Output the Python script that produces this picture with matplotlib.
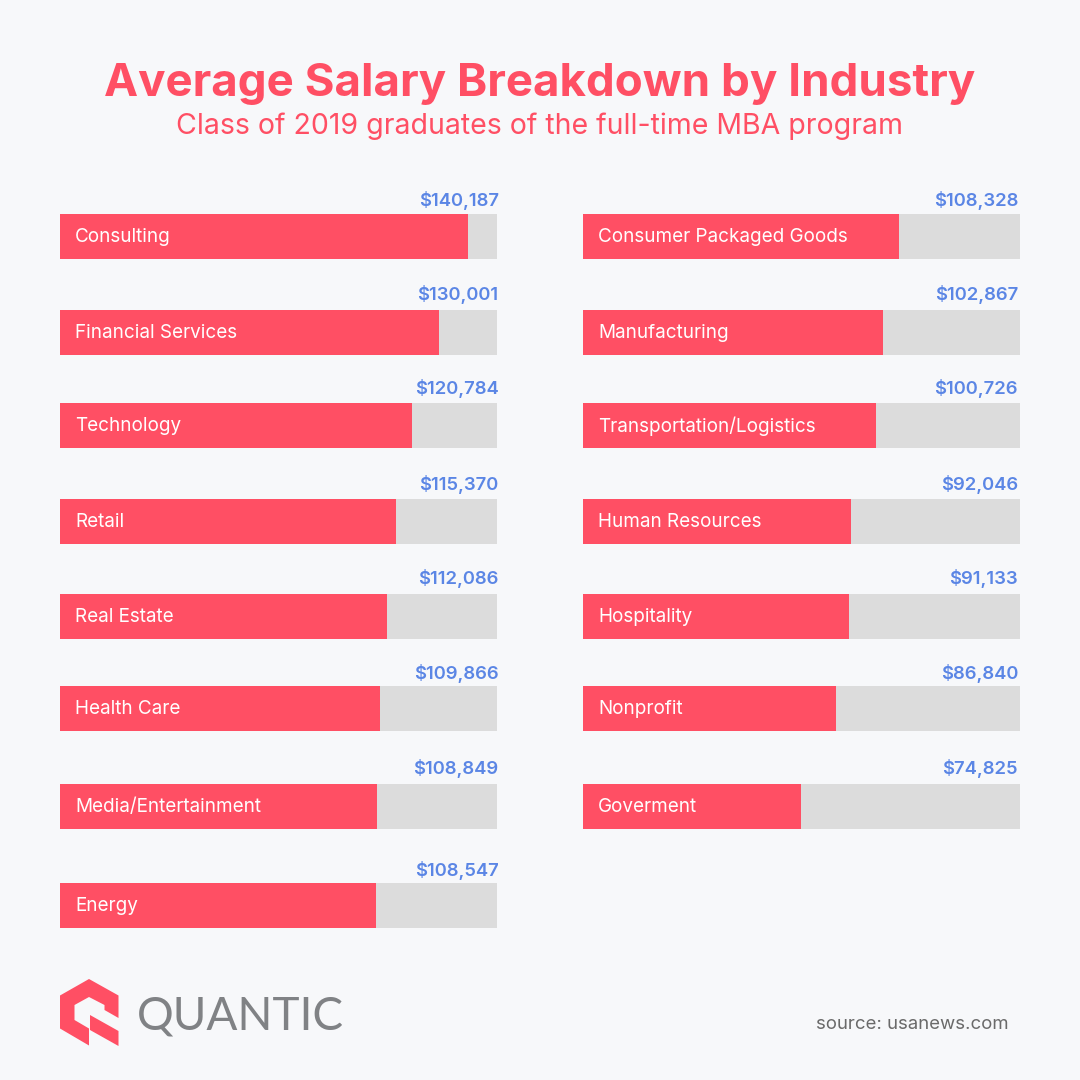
import matplotlib
matplotlib.use("Agg")
import matplotlib.pyplot as plt
from matplotlib.patches import Polygon

left_labels = ["Consulting", "Financial Services", "Technology", "Retail",
               "Real Estate", "Health Care", "Media/Entertainment", "Energy"]
left_values = [140187, 130001, 120784, 115370, 112086, 109866, 108849, 108547]
right_labels = ["Consumer Packaged Goods", "Manufacturing", "Transportation/Logistics",
                "Human Resources", "Hospitality", "Nonprofit", "Goverment"]
right_values = [108328, 102867, 100726, 92046, 91133, 86840, 74825]

# layout (pixels of the 1080 canvas)
W = 1080
ROW_CENTERS = [236.5, 332.5, 425.5, 521.5, 616.5, 708.5, 806.5, 905.5]
VALUE_CENTERS = [200.5, 294.5, 388.5, 484.5, 578.5, 673.5, 768.5, 870.5]
BAR_H = 45
AXIS_MAX = 150000
BG, RED, GREY, BLUE = "#f7f8fa", "#ff4f64", "#dcdcdc", "#5b86e5"
FONT = "Inter"
plt.rcParams["font.family"] = [FONT, "DejaVu Sans"]

fig = plt.figure(figsize=(W / 100, W / 100), dpi=100, facecolor=BG)
bg = fig.add_axes([0, 0, 1, 1], xlim=(0, W), ylim=(W, 0))
bg.axis("off")


def panel(x0, x1, labels, values, value_dx):
    ax = fig.add_axes([x0 / W, 0, (x1 - x0) / W, 1], xlim=(0, AXIS_MAX), ylim=(W, 0))
    ax.axis("off")
    ax.patch.set_alpha(0)
    ys = ROW_CENTERS[:len(values)]
    ax.barh(ys, [AXIS_MAX] * len(values), height=BAR_H, color=GREY, linewidth=0)
    ax.barh(ys, values, height=BAR_H, color=RED, linewidth=0)
    for y, vy, lab, val in zip(ys, VALUE_CENTERS, labels, values):
        ax.annotate(lab, (0, y), xytext=(11, -0.3), textcoords="offset points",
                    color="white", fontsize=13.6, va="center", ha="left")
        ax.annotate(f"${val:,}", (AXIS_MAX, vy), xytext=(value_dx, 0),
                    textcoords="offset points", color=BLUE, fontsize=13.3,
                    fontweight="semibold", va="center", ha="right")


panel(60, 497, left_labels, left_values, 1.2)
panel(583, 1020, right_labels, right_values, -1.4)

bg.text(540, 84, "Average Salary Breakdown by Industry", color=RED, fontsize=32.9,
        fontweight="bold", ha="center", va="center")
bg.text(540, 126, "Class of 2019 graduates of the full-time MBA program", color=RED,
        fontsize=20.5, ha="center", va="center")

# logo
bg.add_patch(Polygon([(89, 979), (118.5, 995.5), (118.5, 1018), (104.5, 1010), (104.5, 1005),
                     (89, 997), (74.5, 1005), (74.5, 1020), (89, 1028.5), (89, 1045.5),
                     (60, 1028.5), (60, 995.5)], closed=True, fc=RED, lw=0))
bg.add_patch(Polygon([(90, 1015), (118.5, 1031), (118.5, 1046), (90, 1030)], closed=True, fc=RED, lw=0))
bg.text(137, 1017, "QUANTIC", color="#808285", fontsize=33, fontweight="regular",
        family="Lato", ha="left", va="center")
bg.text(1009, 1024.5, "source: usanews.com", color="#6a6a6a", fontsize=13.4,
        ha="right", va="center")

fig.savefig("out.png", dpi=100, facecolor=BG)
